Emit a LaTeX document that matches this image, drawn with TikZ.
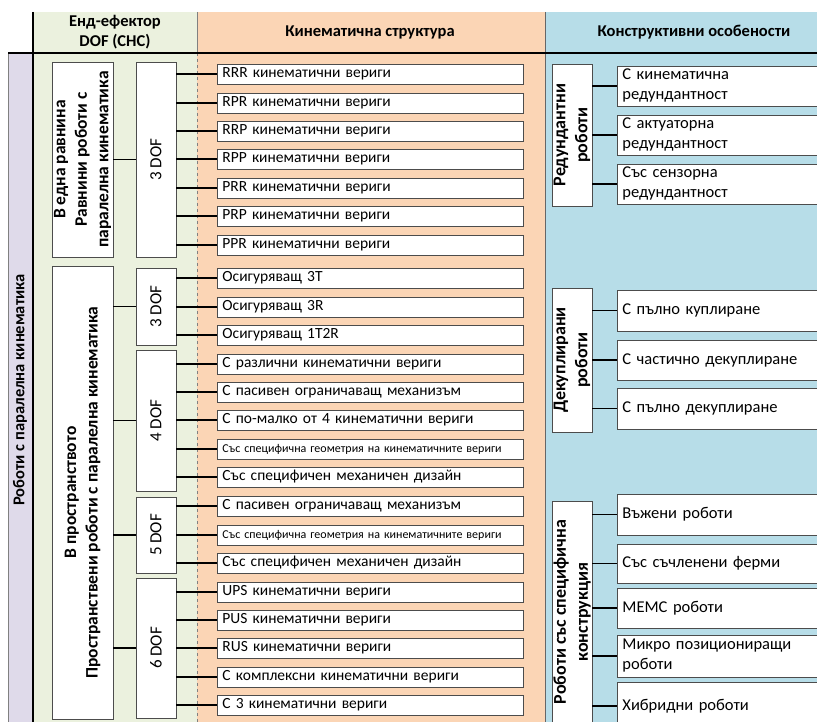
\documentclass[tikz,border=0pt]{standalone}
\usepackage{fontspec}
\setmainfont{Carlito}
\definecolor{dofgreen}{HTML}{EBF1DE}
\definecolor{kinorange}{HTML}{FBD5B5}
\definecolor{conblue}{HTML}{B7DDE8}
\definecolor{sidepurple}{HTML}{DFDAEA}
\begin{document}
\begin{tikzpicture}[x=1pt, y=-1pt,
    box/.style = {draw=black!70, fill=white, line width=0.9pt},
    leaf/.style = {box, anchor=west, minimum width=306pt, minimum height=20pt, inner xsep=5pt, inner ysep=0pt, text width=296pt, align=left, font=\fontsize{15.5}{18}\selectfont},
    tiny/.style = {font=\fontsize{12}{13}\selectfont},
    grp/.style = {box, rotate=90, inner sep=0pt, align=center, font=\bfseries\fontsize{17.5}{21.5}\selectfont},
    dof/.style = {box, rotate=90, minimum height=40pt, inner sep=0pt, font=\fontsize{17}{19}\selectfont},
    feat/.style = {box, anchor=west, minimum width=225pt, inner xsep=5pt, inner ysep=0pt, text width=215pt, align=left, font=\fontsize{16.5}{20}\selectfont},
    head/.style = {align=center, font=\bfseries\fontsize{16.5}{20.5}\selectfont},
    conn/.style = {black, line width=1.6pt}]
    \clip (0,0) rectangle (817,722);

    % Columns
    \fill[dofgreen] (33,12) rectangle (197,722);
    \fill[kinorange] (197,12) rectangle (545,722);
    \fill[conblue] (545,12) rectangle (817,722);
    \filldraw[fill=sidepurple, draw=black!50] (8,53) rectangle (33,725);
    \draw[black!50] (197,12) -- (197,53);
    \draw[black!50, dashed, line width=0.9pt] (197,53) -- (197,722);
    \draw[black!60, line width=0.9pt] (545,12) -- (545,722);
    \draw[black, line width=2.2pt] (33,12) -- (33,722);
    \draw[black, line width=1.8pt] (8,53) -- (817,53);

    % Header
    \node[head] (h1) at (115,32) {Енд-ефектор\\DOF (СНС)};
    \node[head] (h2) at (370,32) {Кинематична структура};
    \node[head] (h3) at (694,32) {Конструктивни особености};
    \node[head, rotate=90] (side) at (20,390) {Роботи с паралелна кинематика};

    % Nodes
    \node[grp, minimum width=195pt, minimum height=61pt] (g1) at (82.5,159.5) {В една равнина\\Равнини роботи с\\паралелна кинематика};
    \node[grp, minimum width=453pt, minimum height=61pt] (g2) at (82.5,492.5) {В пространството\\Пространствени роботи с паралелна кинематика};

    \node[dof, minimum width=195pt] (d1) at (156,159.5) {3 DOF};
    \node[dof, minimum width=77pt] (d2) at (156,306.5) {3 DOF};
    \node[dof, minimum width=141pt] (d3) at (156,420.5) {4 DOF};
    \node[dof, minimum width=76pt] (d4) at (156,535) {5 DOF};
    \node[dof, minimum width=140pt] (d5) at (156,648) {6 DOF};

    \node[leaf] (r1) at (217,74) {RRR кинематични вериги};
    \node[leaf] (r2) at (217,103) {RPR кинематични вериги};
    \node[leaf] (r3) at (217,131) {RRP кинематични вериги};
    \node[leaf] (r4) at (217,159) {RPP кинематични вериги};
    \node[leaf] (r5) at (217,188) {PRR кинематични вериги};
    \node[leaf] (r6) at (217,216) {PRP кинематични вериги};
    \node[leaf] (r7) at (217,245) {PPR кинематични вериги};
    \node[leaf] (r8) at (217,278) {Осигуряващ 3T};
    \node[leaf] (r9) at (217,307) {Осигуряващ 3R};
    \node[leaf] (r10) at (217,335) {Осигуряващ 1T2R};
    \node[leaf] (r11) at (217,364) {С различни кинематични вериги};
    \node[leaf] (r12) at (217,392) {С пасивен ограничаващ механизъм};
    \node[leaf] (r13) at (217,420) {С по-малко от 4 кинематични вериги};
    \node[leaf, tiny] (r14) at (217,449) {Със специфична геометрия на кинематичните вериги};
    \node[leaf] (r15) at (217,477) {Със специфичен механичен дизайн};
    \node[leaf] (r16) at (217,506) {С пасивен ограничаващ механизъм};
    \node[leaf, tiny] (r17) at (217,535) {Със специфична геометрия на кинематичните вериги};
    \node[leaf] (r18) at (217,563) {Със специфичен механичен дизайн};
    \node[leaf] (r19) at (217,592) {UPS кинематични вериги};
    \node[leaf] (r20) at (217,620) {PUS кинематични вериги};
    \node[leaf] (r21) at (217,648) {RUS кинематични вериги};
    \node[leaf] (r22) at (217,677) {С комплексни кинематични вериги};
    \node[leaf] (r23) at (217,705) {С 3 кинематични вериги};

    \node[grp, minimum width=142pt, minimum height=40pt, font=\bfseries\fontsize{18}{22}\selectfont] (red) at (572,135) {Редундантни\\роботи};
    \node[grp, minimum width=144pt, minimum height=40pt, font=\bfseries\fontsize{18}{22}\selectfont] (dec) at (572,360) {Декуплирани\\роботи};
    \node[grp, minimum width=222pt, minimum height=40pt, font=\bfseries\fontsize{18}{22}\selectfont] (spec) at (572,612) {Роботи със специфична\\конструкция};

    \node[feat, minimum height=40pt] (f1) at (617,86) {С кинематична\\редундантност};
    \node[feat, minimum height=40pt] (f2) at (617,135) {С актуаторна\\редундантност};
    \node[feat, minimum height=40pt] (f3) at (617,184) {Със сензорна\\редундантност};
    \node[feat, minimum height=41pt] (f4) at (617,310.5) {С пълно куплиране};
    \node[feat, minimum height=40pt] (f5) at (617,360) {С частично декуплиране};
    \node[feat, minimum height=41pt] (f6) at (617,408.5) {С пълно декуплиране};
    \node[feat, minimum height=41pt] (f7) at (617,514.5) {Въжени роботи};
    \node[feat, minimum height=39pt] (f8) at (617,563.5) {Със съчленени ферми};
    \node[feat, minimum height=40pt] (f9) at (617,608) {МЕМС роботи};
    \node[feat, minimum height=42pt] (f10) at (617,656) {Микро позициониращи\\роботи};
    \node[feat, minimum height=48pt] (f11) at (617,706) {Хибридни роботи};

    % Edges
    \draw[conn] (g1.south) -- (d1.north);
    \draw[conn] (g2.south |- d2) -- (d2.north);
    \draw[conn] (g2.south |- d3) -- (d3.north);
    \draw[conn] (g2.south |- d4) -- (d4.north);
    \draw[conn] (g2.south |- d5) -- (d5.north);

    \draw[conn] (d1.south |- r1) -- (r1.west);
    \draw[conn] (d1.south |- r2) -- (r2.west);
    \draw[conn] (d1.south |- r3) -- (r3.west);
    \draw[conn] (d1.south |- r4) -- (r4.west);
    \draw[conn] (d1.south |- r5) -- (r5.west);
    \draw[conn] (d1.south |- r6) -- (r6.west);
    \draw[conn] (d1.south |- r7) -- (r7.west);
    \draw[conn] (d2.south |- r8) -- (r8.west);
    \draw[conn] (d2.south |- r9) -- (r9.west);
    \draw[conn] (d2.south |- r10) -- (r10.west);
    \draw[conn] (d3.south |- r11) -- (r11.west);
    \draw[conn] (d3.south |- r12) -- (r12.west);
    \draw[conn] (d3.south |- r13) -- (r13.west);
    \draw[conn] (d3.south |- r14) -- (r14.west);
    \draw[conn] (d3.south |- r15) -- (r15.west);
    \draw[conn] (d4.south |- r16) -- (r16.west);
    \draw[conn] (d4.south |- r17) -- (r17.west);
    \draw[conn] (d4.south |- r18) -- (r18.west);
    \draw[conn] (d5.south |- r19) -- (r19.west);
    \draw[conn] (d5.south |- r20) -- (r20.west);
    \draw[conn] (d5.south |- r21) -- (r21.west);
    \draw[conn] (d5.south |- r22) -- (r22.west);
    \draw[conn] (d5.south |- r23) -- (r23.west);

    \draw[conn] (red.south |- f1) -- (f1.west);
    \draw[conn] (red.south |- f2) -- (f2.west);
    \draw[conn] (red.south |- f3) -- (f3.west);
    \draw[conn] (dec.south |- f4) -- (f4.west);
    \draw[conn] (dec.south |- f5) -- (f5.west);
    \draw[conn] (dec.south |- f6) -- (f6.west);
    \draw[conn] (spec.south |- f7) -- (f7.west);
    \draw[conn] (spec.south |- f8) -- (f8.west);
    \draw[conn] (spec.south |- f9) -- (f9.west);
    \draw[conn] (spec.south |- f10) -- (f10.west);
    \draw[conn] (spec.south |- f11) -- (f11.west);
\end{tikzpicture}
\end{document}
